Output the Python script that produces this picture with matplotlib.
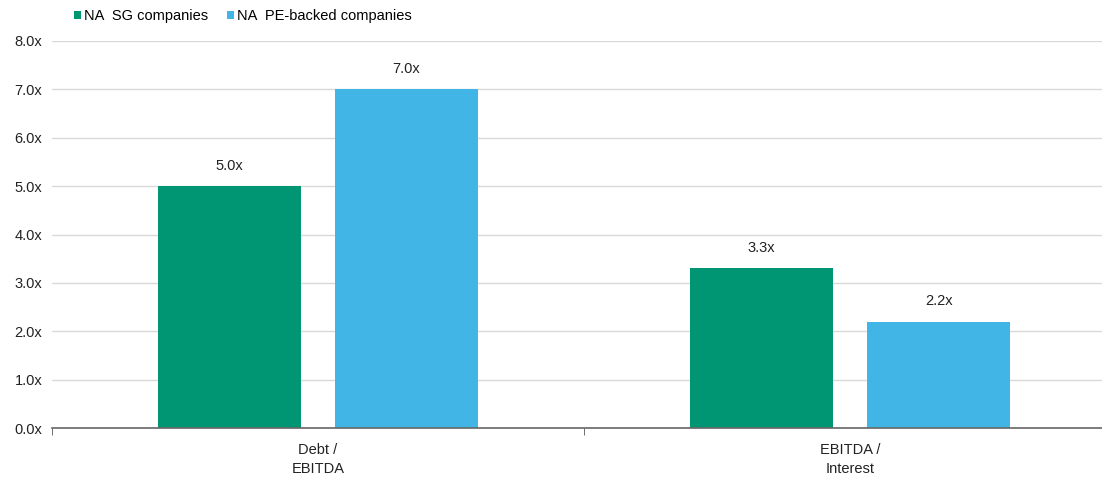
import matplotlib
matplotlib.use("Agg")
import matplotlib.pyplot as plt
from matplotlib import font_manager
import numpy as np

categories = ["Debt /\nEBITDA", "EBITDA /\nInterest"]
series_names = ["NA  SG companies", "NA  PE-backed companies"]
sg_values = [5.0, 3.3]
pe_values = [7.0, 2.2]
colors = ["#009673", "#41B6E6"]

names = {f.name for f in font_manager.fontManager.ttflist}
fam = "Liberation Sans Narrow" if "Liberation Sans Narrow" in names else "Liberation Sans"
plt.rcParams["font.family"] = [fam, "DejaVu Sans"]

fig = plt.figure(figsize=(11.02, 4.8), dpi=100)
W, H = 1102, 480
ax = fig.add_axes([52 / W, 1 - 428 / H, 1064 / W, (428 - 41) / H])

x = np.arange(len(categories))
bw = 0.269
off = 0.1665
b1 = ax.bar(x - off, sg_values, bw, color=colors[0], label=series_names[0], zorder=3)
b2 = ax.bar(x + off, pe_values, bw, color=colors[1], label=series_names[1], zorder=3)
for bars, vals in ((b1, sg_values), (b2, pe_values)):
    for r, v in zip(bars, vals):
        ax.text(r.get_x() + r.get_width() / 2, v + 0.28, f"{v:.1f}x",
                ha="center", va="bottom", fontsize=10.5, color="#222222")

ax.set_xlim(-0.5, 1.5)
ax.set_ylim(0, 8)
ax.set_yticks(np.arange(0, 8.01, 1))
ax.set_yticklabels([f"{v:.1f}x" for v in np.arange(0, 8.01, 1)])
ax.yaxis.grid(True, color="#d9d9d9", linewidth=1, zorder=0)
ax.set_xticks(x)
ax.set_xticklabels(categories, fontsize=10.5, color="#222222", linespacing=1.45)
ax.set_xticks([-0.5, 0.5, 1.5], minor=True)
ax.tick_params(axis="x", which="major", length=0, pad=11)
ax.tick_params(axis="x", which="minor", length=5, color="#555555")
ax.tick_params(axis="y", length=0, labelsize=10.5, labelcolor="#222222", pad=7)
for s in ("top", "right", "left"):
    ax.spines[s].set_visible(False)
ax.spines["bottom"].set_color("#666666")
ax.spines["bottom"].set_linewidth(1.2)
ax.spines["bottom"].set_zorder(4)

leg = fig.legend(handles=[b1, b2], labels=series_names, loc="center left",
                 bbox_to_anchor=(68 / W, 1 - 16 / H), ncol=2, frameon=False,
                 fontsize=10.5, handlelength=0.5, handleheight=0.5,
                 handletextpad=0.2, columnspacing=1.3, borderaxespad=0)

fig.savefig("out.png", dpi=100)
